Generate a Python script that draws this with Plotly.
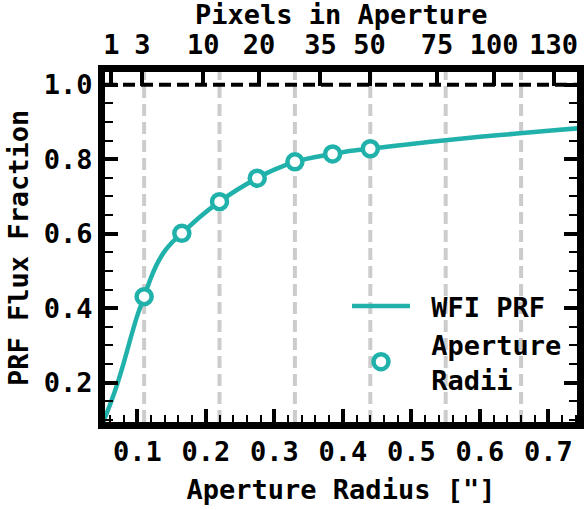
import numpy as np
import plotly.graph_objects as go

# ---- data ----
PIX_SCALE = 0.11  # arcsec per WFI pixel
r_curve = [0.05, 0.06, 0.07, 0.08, 0.09, 0.10, 0.11, 0.12, 0.13, 0.14, 0.15, 0.165,
           0.19, 0.22, 0.2475, 0.275, 0.30, 0.33, 0.36, 0.385, 0.41, 0.44,
           0.50, 0.55, 0.60, 0.65, 0.70, 0.75]
f_curve = [0.092, 0.140, 0.192, 0.252, 0.318, 0.380, 0.431, 0.482, 0.523, 0.553, 0.575, 0.601,
           0.643, 0.686, 0.720, 0.749, 0.772, 0.793, 0.806, 0.814, 0.822, 0.828,
           0.841, 0.851, 0.860, 0.868, 0.876, 0.884]
r_apert = [0.11, 0.165, 0.22, 0.275, 0.33, 0.385, 0.44]
f_apert = [0.431, 0.601, 0.686, 0.749, 0.793, 0.814, 0.828]
grid_r = [0.11, 0.22, 0.33, 0.44, 0.55, 0.66]
pix_ticks = [1, 3, 10, 20, 35, 50, 75, 100, 130]

TEAL = '#20B2AA'
FONT = dict(family='DejaVu Sans Mono', size=27, color='black', weight='bold')

x_range = [0.0529, 0.7416]
y_range = [0.0945, 1.034]

top_vals = [PIX_SCALE * np.sqrt(n / np.pi) for n in pix_ticks]

fig = go.Figure()
fig.add_trace(go.Scatter(
    x=r_curve, y=f_curve, mode='lines',
    line=dict(color=TEAL, width=4.5, shape='spline', smoothing=0.6),
    name='\u00a0WFI PRF'))
fig.add_trace(go.Scatter(
    x=r_apert, y=f_apert, mode='markers',
    marker=dict(symbol='circle', size=15, color='white',
                line=dict(color=TEAL, width=4.5)),
    name='\u00a0Aperture<br>\u00a0Radii'))
# invisible traces that activate the top and right axes
fig.add_trace(go.Scatter(
    x=top_vals, y=[0.5] * len(top_vals), mode='markers', xaxis='x2', yaxis='y',
    marker=dict(opacity=0), showlegend=False, hoverinfo='skip'))
fig.add_trace(go.Scatter(
    x=[0.3], y=[0.5], mode='markers', xaxis='x', yaxis='y2',
    marker=dict(opacity=0), showlegend=False, hoverinfo='skip'))

shapes = []
for r in grid_r:
    shapes.append(dict(type='line', xref='x', yref='paper', x0=r, x1=r, y0=0, y1=1,
                       line=dict(color='#cccccc', width=4, dash='12px,6px'), layer='below'))
shapes.append(dict(type='line', xref='paper', yref='y', x0=0, x1=1, y0=1.0, y1=1.0,
                   line=dict(color='black', width=4, dash='12px,6px'), layer='above'))

tick_common = dict(ticks='inside', tickcolor='black', showline=True, linecolor='black',
                   linewidth=7, showgrid=False, zeroline=False, automargin=False)
minor_x = dict(tick0=0, dtick=0.02, ticks='inside', ticklen=7, tickwidth=2,
               tickcolor='black', showgrid=False)
minor_y = dict(tick0=0, dtick=0.05, ticks='inside', ticklen=8, tickwidth=2,
               tickcolor='black', showgrid=False)

fig.update_layout(
    width=584, height=510,
    margin=dict(l=105, r=7, t=72, b=88),
    paper_bgcolor='white', plot_bgcolor='white',
    font=FONT,
    shapes=shapes,
    showlegend=True,
    legend=dict(x=0.5127, y=0.40, xanchor='left', yanchor='top',
                bgcolor='rgba(0,0,0,0)', borderwidth=0, itemwidth=58,
                font=FONT, tracegroupgap=0),
    xaxis=dict(range=x_range, tickmode='linear', tick0=0.1, dtick=0.1, tickformat='.1f',
               ticklen=13, tickwidth=4, mirror=False, minor=minor_x,
               tickfont=FONT,
               title=dict(text='Aperture Radius ["]', font=FONT, standoff=16),
               **tick_common),
    xaxis2=dict(range=x_range, overlaying='x', side='top', anchor='y',
                tickmode='array', tickvals=top_vals, ticktext=[str(n) for n in pix_ticks],
                ticklen=14, tickwidth=4, tickfont=FONT,
                **tick_common),
    yaxis=dict(range=y_range, tickmode='linear', tick0=0.2, dtick=0.2, tickformat='.1f',
               ticklen=13, tickwidth=4, mirror=False, minor=minor_y,
               tickfont=FONT,
               **tick_common),
    yaxis2=dict(range=y_range, overlaying='y', side='right', anchor='x',
                tickmode='linear', tick0=0.2, dtick=0.2, showticklabels=False,
                ticklen=13, tickwidth=4, minor=minor_y,
                **tick_common),
    annotations=[
        dict(text='Pixels in Aperture', xref='paper', yref='paper',
             x=0.5, y=1.163, xanchor='center', yanchor='middle',
             showarrow=False, font=FONT),
        dict(text='PRF Flux Fraction', xref='paper', yref='paper',
             x=-0.1843, y=0.497, xanchor='center', yanchor='middle', textangle=-90,
             showarrow=False, font=FONT),
    ],
)

fig.write_html('out.html', config={'displayModeBar': False},
               post_script="document.body.style.margin='0px';")
